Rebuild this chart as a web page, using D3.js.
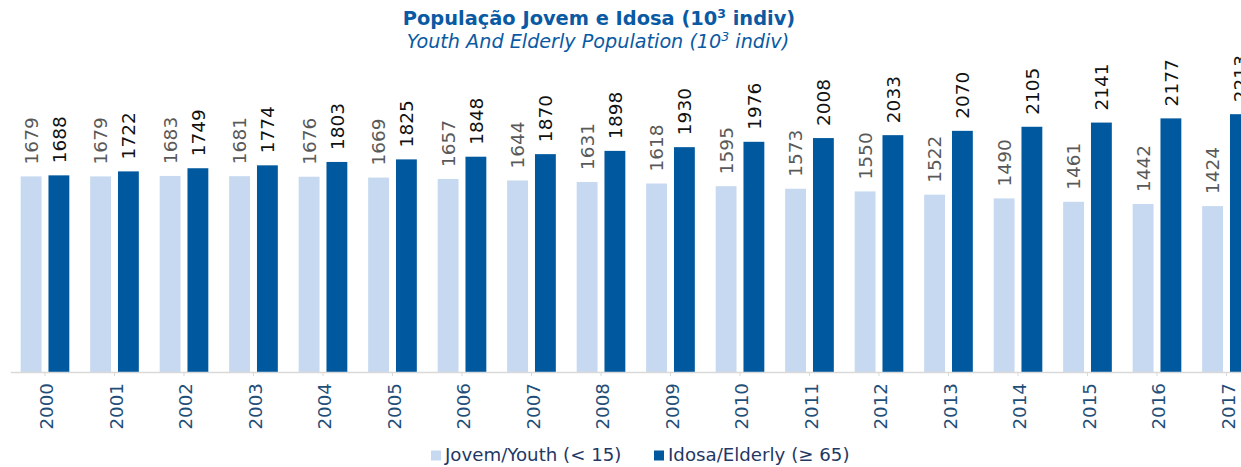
<!DOCTYPE html>
<html>
<head>
<meta charset="utf-8">
<script src="https://cdn.jsdelivr.net/npm/d3@7"></script>
<style>
  html, body { margin: 0; padding: 0; background: #fff; }
  svg { display: block; font-family: "DejaVu Sans", Verdana, sans-serif; }
</style>
</head>
<body>
<svg id="chart" width="1241" height="467"></svg>
<script>
const years = ["2000","2001","2002","2003","2004","2005","2006","2007","2008","2009","2010","2011","2012","2013","2014","2015","2016","2017"];
const youth = [1679,1679,1683,1681,1676,1669,1657,1644,1631,1618,1595,1573,1550,1522,1490,1461,1442,1424];
const elderly = [1688,1722,1749,1774,1803,1825,1848,1870,1898,1930,1976,2008,2033,2070,2105,2141,2177,2213];
const seriesNames = ["Jovem/Youth (< 15)", "Idosa/Elderly (\u2265 65)"];
const seriesKeys = ["youth", "elderly"];
const colors = ["#c6d9f0", "#00599e"];
const labelColors = ["#595959", "#111111"];

const svg = d3.select("#chart");
const baseY = 372;

const x0 = d3.scaleBand().domain(years).range([10.25, 1261.25]).paddingInner(0.3).paddingOuter(0.15);
const x1 = d3.scaleBand().domain(seriesKeys).range([0, x0.bandwidth()]).paddingInner(0.25);
const y = d3.scaleLinear().domain([0, 2500]).range([baseY, 80.75]);

const data = years.map((yr, i) => ({ year: yr, youth: youth[i], elderly: elderly[i] }));

// Title
svg.append("text").attr("x", 599).attr("y", 25).attr("text-anchor", "middle")
  .attr("font-weight", "bold").attr("font-size", 19.4).attr("fill", "#0a5aa3")
  .html('População Jovem e Idosa (10<tspan font-size="12.5" dy="-7">3</tspan><tspan dy="7"> indiv)</tspan>');
svg.append("text").attr("x", 598).attr("y", 48).attr("text-anchor", "middle")
  .attr("font-style", "italic").attr("font-size", 19.2).attr("fill", "#0a5aa3")
  .html('Youth And Elderly Population (10<tspan font-size="12.5" dy="-7">3</tspan><tspan dy="7"> indiv)</tspan>');

// Bars
const groups = svg.append("g").selectAll("g").data(data).join("g")
  .attr("transform", d => `translate(${x0(d.year)},0)`);

seriesKeys.forEach((k, si) => {
  groups.append("rect")
    .attr("x", x1(k))
    .attr("width", x1.bandwidth())
    .attr("y", d => y(d[k]))
    .attr("height", d => baseY - y(d[k]))
    .attr("fill", colors[si]);
  groups.append("text")
    .attr("transform", d => `translate(${x1(k) + x1.bandwidth() / 2},${y(d[k]) - 12}) rotate(-90)`)
    .attr("dy", "0.36em")
    .attr("text-anchor", "start")
    .attr("font-size", 18.5)
    .attr("fill", labelColors[si])
    .text(d => d[k]);
});

// Axis
const axis = svg.append("g").attr("transform", `translate(0,${baseY})`)
  .call(d3.axisBottom(x0).tickSize(4).tickSizeOuter(0));
axis.select(".domain").attr("stroke", "#d9d9d9").attr("stroke-width", 1.5);
axis.selectAll(".tick line").attr("stroke", "#d9d9d9");
axis.selectAll(".tick text")
  .attr("font-family", "DejaVu Sans, Verdana, sans-serif")
  .attr("font-size", 18.3)
  .attr("fill", "#1f4e79")
  .attr("text-anchor", "end")
  .attr("transform", "translate(1.5,11) rotate(-90)")
  .attr("x", 0).attr("y", 0).attr("dy", "0.36em");

// Legend
const legendItems = [{ x: 431, tx: 445 }, { x: 654, tx: 668 }];
legendItems.forEach((it, i) => {
  svg.append("rect").attr("x", it.x).attr("y", 450.5).attr("width", 10).attr("height", 10).attr("fill", colors[i]);
  svg.append("text").attr("x", it.tx).attr("y", 460.5).attr("font-size", 18.2).attr("fill", "#1f3864").text(seriesNames[i]);
});
</script>
</body>
</html>
